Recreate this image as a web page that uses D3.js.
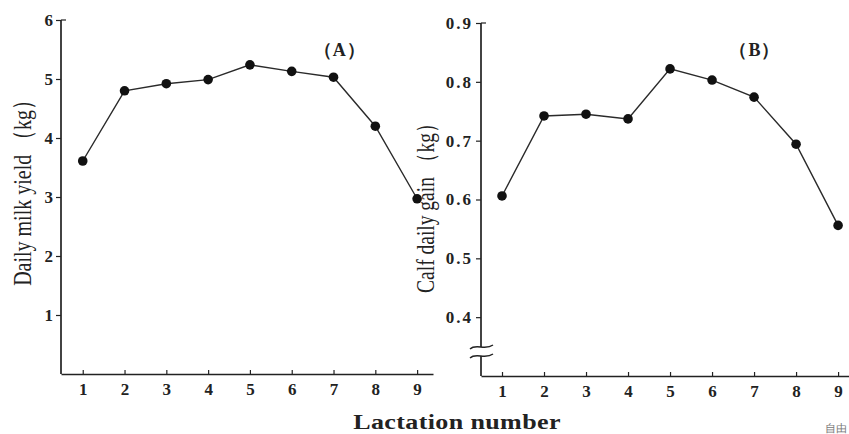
<!DOCTYPE html>
<html>
<head>
<meta charset="utf-8">
<script src="https://cdn.jsdelivr.net/npm/d3@7"></script>
<style>
  body { margin: 0; background: #fff; }
  text { font-family: "Liberation Serif", "DejaVu Serif", serif; fill: #222; }
</style>
</head>
<body>
<div id="chart"></div>
<script>
const lactation = [1, 2, 3, 4, 5, 6, 7, 8, 9];
const milkYield = [3.61, 4.80, 4.92, 4.99, 5.24, 5.13, 5.03, 4.20, 2.97];
const calfGain = [0.606, 0.742, 0.745, 0.737, 0.822, 0.803, 0.774, 0.694, 0.556];
const milkTicks = [1, 2, 3, 4, 5, 6];
const gainTicks = [0.4, 0.5, 0.6, 0.7, 0.8, 0.9];

const width = 849, height = 434;
const ink = "#222";

const svg = d3.select("#chart")
  .append("svg")
  .attr("width", width)
  .attr("height", height);

// panel A
const xA = d3.scaleLinear().domain([0.48, 9.38]).range([61, 433]);
const yA = d3.scaleLinear().domain([0, 6]).range([374, 20]);

// panel B
const xB = d3.scaleLinear().domain([0.5, 9.26]).range([481, 849]);
const yB = d3.scaleLinear().domain([0.3, 0.9]).range([376, 23]);

const drawPanel = (x, y, values, yTicks, fmt, label, broken) => {
  const g = svg.append("g");

  // x axis
  const gx = g.append("g")
    .attr("transform", `translate(0, ${y.range()[0]})`)
    .call(d3.axisBottom(x).tickValues(lactation).tickSize(-4).tickSizeOuter(0).tickPadding(9));
  gx.select(".domain").attr("stroke", ink).attr("stroke-width", 1.7);
  gx.selectAll(".tick line").attr("stroke", ink).attr("stroke-width", 1.2);
  gx.selectAll(".tick text")
    .attr("font-size", 17).attr("font-weight", "bold").attr("fill", ink)
    .attr("font-family", "Liberation Serif, serif");

  // y axis
  const gy = g.append("g")
    .attr("transform", `translate(${x.range()[0]}, 0)`)
    .call(d3.axisLeft(y).tickValues(yTicks).tickFormat(fmt).tickSize(5).tickPadding(3));
  gy.select(".domain").remove();
  gy.selectAll(".tick line").attr("stroke", ink).attr("stroke-width", 1.2);
  gy.selectAll(".tick text")
    .attr("font-size", 17).attr("font-weight", "bold").attr("fill", ink)
    .attr("letter-spacing", broken ? 2 : 0)
    .attr("font-family", "Liberation Serif, serif");

  const x0 = x.range()[0];
  const top = y(yTicks[yTicks.length - 1]);
  const bottom = y.range()[0];
  // small cap at the top
  g.append("line").attr("x1", x0).attr("x2", x0 + 5).attr("y1", top).attr("y2", top)
    .attr("stroke", ink).attr("stroke-width", 1.2);

  if (broken) {
    const b1 = bottom - 29, b2 = bottom - 20;
    g.append("line").attr("x1", x0).attr("x2", x0).attr("y1", top).attr("y2", b1)
      .attr("stroke", ink).attr("stroke-width", 1.7);
    g.append("line").attr("x1", x0).attr("x2", x0).attr("y1", b2).attr("y2", bottom)
      .attr("stroke", ink).attr("stroke-width", 1.7);
    [b1, b2].forEach(b => {
      g.append("path")
        .attr("d", `M${x0 - 11},${b + 2} C${x0 - 5},${b - 4} ${x0 + 4},${b + 4} ${x0 + 12},${b - 2}`)
        .attr("fill", "none").attr("stroke", ink).attr("stroke-width", 1.4);
    });
  } else {
    g.append("line").attr("x1", x0).attr("x2", x0).attr("y1", top).attr("y2", bottom)
      .attr("stroke", ink).attr("stroke-width", 1.7);
  }

  const line = d3.line()
    .x((d, i) => x(lactation[i]))
    .y(d => y(d));

  g.append("path")
    .datum(values)
    .attr("fill", "none")
    .attr("stroke", "#2a2a2a")
    .attr("stroke-width", 1.4)
    .attr("d", line);

  g.selectAll("circle")
    .data(values)
    .join("circle")
    .attr("cx", (d, i) => x(lactation[i]))
    .attr("cy", d => y(d))
    .attr("r", 4.8)
    .attr("fill", "#111");

  g.append("text")
    .attr("x", x(label.at))
    .attr("y", 56)
    .attr("text-anchor", "middle")
    .attr("font-size", 18)
    .attr("font-weight", "bold")
    .attr("letter-spacing", 1)
    .text(label.text);
};

drawPanel(xA, yA, milkYield, milkTicks, d3.format("d"), {text: "（A）", at: 7.15}, false);
drawPanel(xB, yB, calfGain, gainTicks, d3.format(".1f"), {text: "（B）", at: 7.02}, true);

// y titles (the scan is stretched sideways, so glyphs are widened along x)
svg.append("text")
  .attr("transform", "translate(31, 188) rotate(-90) scale(1, 1.3)")
  .attr("text-anchor", "middle")
  .attr("font-size", 20)
  .text("Daily milk yield （kg）");

svg.append("text")
  .attr("transform", "translate(434, 203) rotate(-90) scale(1, 1.3)")
  .attr("text-anchor", "middle")
  .attr("font-size", 19.5)
  .text("Calf daily gain （kg）");

// x title
svg.append("text")
  .attr("transform", "translate(457, 429) scale(1.24, 1)")
  .attr("text-anchor", "middle")
  .attr("font-size", 21)
  .attr("font-weight", "bold")
  .attr("letter-spacing", 0.3)
  .text("Lactation number");

// cut-off watermark
svg.append("text")
  .attr("x", 825)
  .attr("y", 432)
  .attr("font-size", 11)
  .style("fill", "#777")
  .text("自由");
</script>
</body>
</html>
